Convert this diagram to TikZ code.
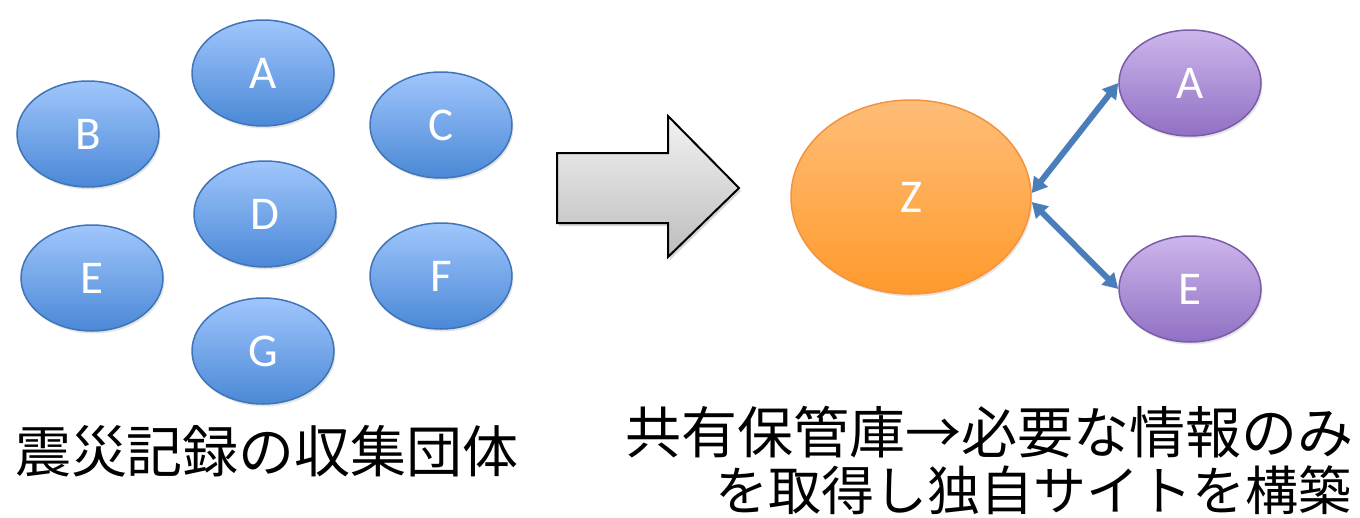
\documentclass[tikz,border=0pt]{standalone}
\usepackage{fontspec}
\setmainfont{Carlito}
\newfontfamily\jpfont{Noto Sans CJK JP}
\usetikzlibrary{shapes.geometric,arrows.meta,shadows}
\definecolor{bluetop}{HTML}{A0C6FC}
\definecolor{bluebot}{HTML}{4A88D6}
\definecolor{blueline}{HTML}{3F75B8}
\definecolor{orgtop}{HTML}{FFBD78}
\definecolor{orgbot}{HTML}{FF9A2C}
\definecolor{orgline}{HTML}{F5923E}
\definecolor{purtop}{HTML}{CDB6EC}
\definecolor{purbot}{HTML}{9070C4}
\definecolor{purline}{HTML}{7A5CA8}
\definecolor{connblue}{HTML}{4A7EBB}
\definecolor{graytop}{HTML}{F2F2F2}
\definecolor{graybot}{HTML}{BDBDBD}
\tikzset{
  oval/.style={ellipse, inner sep=0pt, line width=1.5pt, text=white,
    font=\fontsize{47}{50}\selectfont,
    drop shadow={opacity=0.2, shadow xshift=1.5pt, shadow yshift=-2.5pt}},
  blueoval/.style={oval, draw=blueline, top color=bluetop, bottom color=bluebot,
    minimum width=142pt, minimum height=106pt},
  orgoval/.style={oval, draw=orgline, top color=orgtop, bottom color=orgbot,
    minimum width=240pt, minimum height=194pt},
  puroval/.style={oval, draw=purline, top color=purtop, bottom color=purbot,
    minimum width=142pt, minimum height=106pt},
  conn/.style={draw=connblue, line width=6pt,
    {Triangle[length=15pt,width=17pt]}-{Triangle[length=15pt,width=17pt]}},
  bigarrow/.style={draw=black, line width=2pt, line join=miter,
    top color=graytop, bottom color=graybot,
    drop shadow={opacity=0.3, shadow xshift=2pt, shadow yshift=-3pt}},
  jptext/.style={font=\jpfont\fontsize{56}{58}\selectfont, inner sep=0pt, text=black},
  jptextb/.style={font=\jpfont\fontsize{53}{58}\selectfont, inner sep=0pt, text=black}
}
\begin{document}
\begin{tikzpicture}[x=1pt,y=-1pt]
\useasboundingbox[fill=white] (0,0) rectangle (1360,517);
% left group
\node[blueoval] (A) at (263,73) {A};
\node[blueoval] (B) at (88,134) {B};
\node[blueoval] (C) at (441,125) {C};
\node[blueoval] (D) at (265,214) {D};
\node[blueoval] (E) at (92,278) {E};
\node[blueoval] (F) at (441,276) {F};
\node[blueoval] (G) at (263,351) {G};
\node[jptext] (L1) at (267,451) {震災記録の収集団体};
% big arrow
\path[bigarrow] (557,153) -- (668,153) -- (668,116) -- (739,188) -- (668,257) -- (668,223) -- (557,223) -- cycle;
% right group
\node[orgoval] (Z) at (911,197) {Z};
\node[puroval] (PA) at (1190,83) {A};
\node[puroval] (PE) at (1190,289) {E};
\draw[conn] ([yshift=4pt]Z.east) -- (PA.west);
\draw[conn] ([yshift=-5pt]Z.east) -- (PE.west);
\node[jptext, anchor=east] (R1) at (1354,432) {共有保管庫→必要な情報のみ};
\node[jptextb, anchor=east] (R2) at (1352,490) {を取得し独自サイトを構築};
\end{tikzpicture}
\end{document}
